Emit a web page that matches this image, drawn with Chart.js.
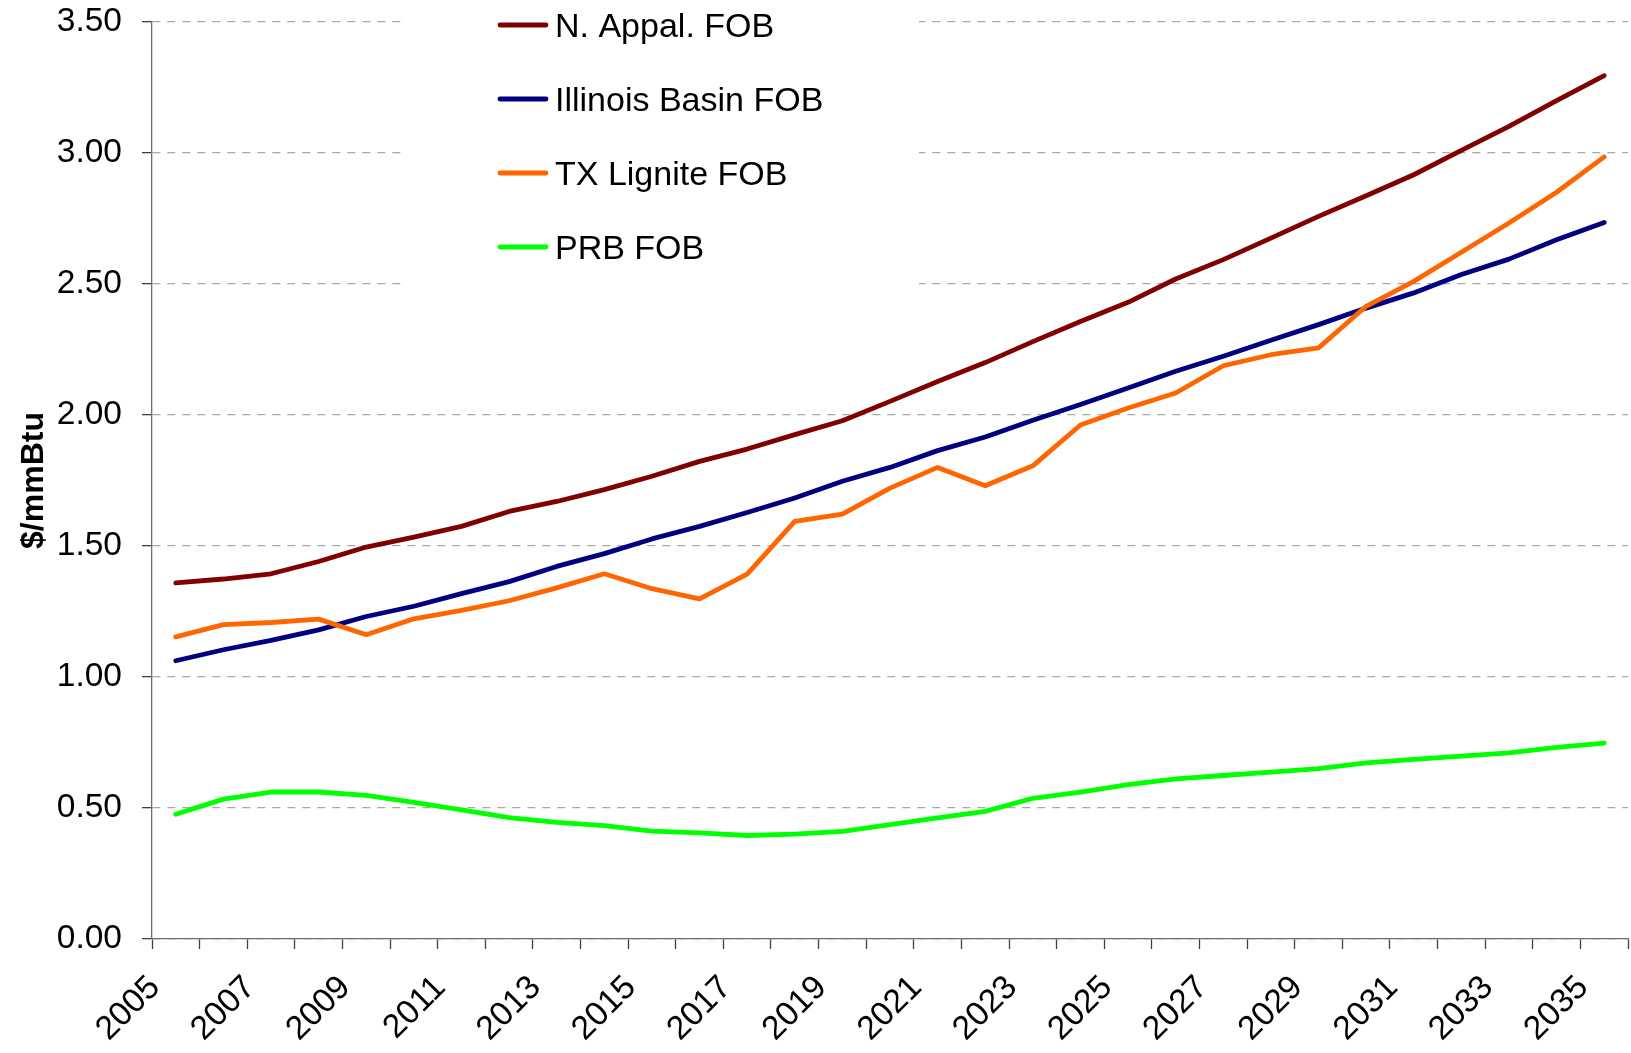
<!DOCTYPE html>
<html>
<head>
<meta charset="utf-8">
<title>Coal FOB prices</title>
<script src="https://cdn.jsdelivr.net/npm/chart.js@4.4.0/dist/chart.umd.min.js"></script>
<style>
    html, body { margin: 0; padding: 0; background: #ffffff; }
    #wrap { width: 1631px; height: 1053px; }
</style>
</head>
<body>
<div id="wrap"><canvas id="priceChart" width="1631" height="1053"></canvas></div>
<script>
// Data ($/mmBtu)
const years = ['2005', '2006', '2007', '2008', '2009', '2010', '2011', '2012', '2013', '2014',
               '2015', '2016', '2017', '2018', '2019', '2020', '2021', '2022', '2023', '2024',
               '2025', '2026', '2027', '2028', '2029', '2030', '2031', '2032', '2033', '2034', '2035'];

const nAppalFob = [1.359, 1.374, 1.394, 1.441, 1.496, 1.534, 1.575, 1.632, 1.670, 1.715,
                   1.766, 1.823, 1.870, 1.925, 1.978, 2.052, 2.128, 2.200, 2.280, 2.357,
                   2.430, 2.519, 2.593, 2.675, 2.758, 2.837, 2.917, 3.010, 3.102, 3.200, 3.295];

const illinoisBasinFob = [1.062, 1.104, 1.140, 1.180, 1.231, 1.270, 1.318, 1.364, 1.422, 1.471,
                          1.527, 1.575, 1.628, 1.683, 1.747, 1.800, 1.864, 1.916, 1.980, 2.040,
                          2.103, 2.167, 2.224, 2.285, 2.345, 2.408, 2.466, 2.536, 2.595, 2.669, 2.735];

const txLigniteFob = [1.153, 1.200, 1.208, 1.221, 1.161, 1.222, 1.254, 1.291, 1.340, 1.394,
                      1.337, 1.298, 1.393, 1.594, 1.622, 1.721, 1.800, 1.730, 1.806, 1.962,
                      2.027, 2.084, 2.188, 2.230, 2.256, 2.415, 2.510, 2.621, 2.733, 2.850, 2.985];

const prbFob = [0.476, 0.534, 0.561, 0.561, 0.548, 0.521, 0.493, 0.463, 0.445, 0.433,
                0.412, 0.405, 0.395, 0.400, 0.411, 0.437, 0.462, 0.487, 0.537, 0.561,
                0.589, 0.611, 0.624, 0.637, 0.650, 0.672, 0.686, 0.698, 0.710, 0.731, 0.748];

const yTicks = [0, 0.5, 1, 1.5, 2, 2.5, 3, 3.5];

const fontFamily = '"Liberation Sans", Arial, Helvetica, sans-serif';

// Legend drawn inside the plot, on a white box that hides the grid behind it
const insideLegend = {
    id: 'insideLegend',
    beforeDatasetsDraw(chart) {
        const ctx = chart.ctx;
        const top = chart.chartArea.top;
        ctx.save();
        ctx.fillStyle = '#ffffff';
        ctx.fillRect(405, top - 3, 514, 270);
        ctx.font = '34px ' + fontFamily;
        ctx.textBaseline = 'alphabetic';
        ctx.lineCap = 'round';
        chart.data.datasets.forEach((ds, i) => {
            const y = 25 + i * 74;
            ctx.strokeStyle = ds.borderColor;
            ctx.lineWidth = 4.8;
            ctx.beginPath();
            ctx.moveTo(500, y);
            ctx.lineTo(546, y);
            ctx.stroke();
            ctx.fillStyle = '#000000';
            ctx.fillText(ds.label, 555, y + 12);
        });
        ctx.restore();
    }
};

function makeSeries(label, data, color, order) {
    return {
        label: label,
        data: data,
        borderColor: color,
        backgroundColor: color,
        borderWidth: 4.8,
        borderCapStyle: 'round',
        borderJoinStyle: 'round',
        pointRadius: 0,
        tension: 0,
        fill: false,
        order: order
    };
}

const ctx = document.getElementById('priceChart');

new Chart(ctx, {
    type: 'line',
    data: {
        labels: years,
        datasets: [
            makeSeries('N. Appal. FOB', nAppalFob, '#800000', 4),
            makeSeries('Illinois Basin FOB', illinoisBasinFob, '#000080', 3),
            makeSeries('TX Lignite FOB', txLigniteFob, '#FF6600', 2),
            makeSeries('PRB FOB', prbFob, '#00FF00', 1)
        ]
    },
    options: {
        responsive: false,
        animation: false,
        devicePixelRatio: 1,
        layout: {
            padding: { left: 0, right: 3, top: 22, bottom: 0 }
        },
        plugins: {
            legend: { display: false },
            tooltip: { enabled: false }
        },
        scales: {
            x: {
                offset: true,
                grid: {
                    offset: true,
                    drawOnChartArea: false,
                    tickLength: 10,
                    tickColor: '#404040',
                    tickWidth: 1.3
                },
                border: { color: '#6e6e6e', width: 1.3 },
                ticks: {
                    autoSkip: false,
                    minRotation: 45,
                    maxRotation: 45,
                    labelOffset: -21,
                    padding: 19,
                    color: '#000000',
                    font: { size: 33.5, family: fontFamily },
                    callback: function (value, index) {
                        return index % 2 === 0 ? this.getLabelForValue(value) : '';
                    }
                },
                afterFit(scale) {
                    scale.height = 114;
                    scale.paddingLeft = 0;
                    scale.paddingRight = 0;
                }
            },
            y: {
                min: yTicks[0],
                max: yTicks[yTicks.length - 1],
                afterBuildTicks(scale) {
                    scale.ticks = yTicks.map(v => ({ value: v }));
                },
                grid: {
                    color: '#a8a8a8',
                    lineWidth: 1.3,
                    tickLength: 10,
                    tickColor: '#404040',
                    tickWidth: 1.3,
                    tickBorderDash: []
                },
                border: { display: true, color: '#6e6e6e', width: 1.3, dash: [8, 7] },
                ticks: {
                    color: '#000000',
                    padding: 20,
                    font: { size: 33.5, family: fontFamily },
                    callback: (value) => Number(value).toFixed(2)
                },
                title: {
                    display: true,
                    text: '$/mmBtu',
                    color: '#000000',
                    font: { size: 32, weight: 'bold', family: fontFamily },
                    padding: { top: 15, bottom: 0 }
                },
                afterFit(scale) {
                    scale.width = 152;
                    scale.paddingTop = 0;
                    scale.paddingBottom = 0;
                }
            }
        }
    },
    plugins: [insideLegend]
});
</script>
</body>
</html>
